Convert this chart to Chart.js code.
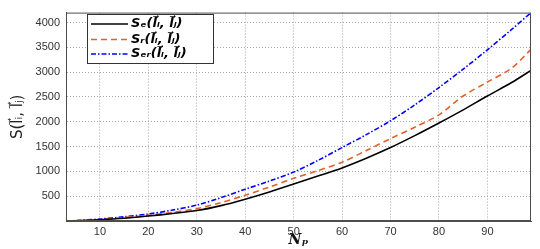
<!DOCTYPE html>
<html>
<head>
<meta charset="utf-8">
<script src="https://cdn.jsdelivr.net/npm/chart.js@4.4.1/dist/chart.umd.min.js"></script>
<style>
  html, body { margin: 0; padding: 0; background: #fff; }
  #wrap { width: 540px; height: 249px; }
</style>
</head>
<body>
<div id="wrap"><canvas id="grafico"></canvas></div>
<script>
// valores
const nP = [3, 5, 10, 15, 20, 25, 30, 35, 40, 45, 50, 55, 60, 65, 70, 75, 80, 85, 90, 95, 99];
const sE = [2, 5, 25, 55, 100, 150, 210, 310, 440, 585, 745, 905, 1070, 1265, 1480, 1720, 1975, 2240, 2520, 2790, 3035];
const sR = [2, 6, 30, 70, 115, 175, 250, 370, 520, 685, 860, 1015, 1185, 1420, 1660, 1890, 2140, 2520, 2800, 3080, 3460];
const sER = [3, 8, 40, 85, 140, 220, 320, 470, 640, 805, 985, 1220, 1480, 1740, 2020, 2340, 2690, 3060, 3450, 3860, 4200];

const xTicks = [10, 20, 30, 40, 50, 60, 70, 80, 90];
const yTicks = [500, 1000, 1500, 2000, 2500, 3000, 3500, 4000];
const legendas = ['S\u2091(l\u20D7\u1D62, l\u20D7\u2C7C)', 'S\u1D63(l\u20D7\u1D62, l\u20D7\u2C7C)', 'S\u2091\u1D63(l\u20D7\u1D62, l\u20D7\u2C7C)'];

function pontos(ys) {
  return nP.map(function (x, i) { return { x: x, y: ys[i] }; });
}

// caixa em volta do grafico + legenda desenhada a mao
const moldura = {
  id: 'moldura',
  afterDatasetsDraw(chart) {
    const ctx = chart.ctx;
    const a = chart.chartArea;
    ctx.save();
    ctx.strokeStyle = '#4d4d4d';
    ctx.lineWidth = 1;
    ctx.setLineDash([]);
    ctx.strokeRect(a.left + 0.5, a.top + 0.5, a.right - a.left - 1, a.bottom - a.top - 1);

    // legenda
    const bx = 87, by = 14, bw = 126, bh = 49;
    ctx.fillStyle = '#fff';
    ctx.fillRect(bx, by, bw, bh);
    ctx.strokeStyle = '#333';
    ctx.strokeRect(bx + 0.5, by + 0.5, bw, bh);
    const linhasY = [24, 39.5, 54];
    chart.data.datasets.forEach(function (ds, i) {
      ctx.beginPath();
      ctx.setLineDash(ds.borderDash || []);
      ctx.strokeStyle = ds.borderColor;
      ctx.lineWidth = ds.borderWidth;
      ctx.moveTo(91, linhasY[i]);
      ctx.lineTo(128, linhasY[i]);
      ctx.stroke();
      ctx.setLineDash([]);
      ctx.fillStyle = '#000';
      ctx.font = 'italic bold 13px "DejaVu Sans", sans-serif';
      ctx.textBaseline = 'middle';
      ctx.fillText(ds.label, 131, linhasY[i]);
    });
    ctx.restore();
  }
};

new Chart(document.getElementById('grafico'), {
  type: 'line',
  data: {
    datasets: [{
      label: legendas[0],
      data: pontos(sE),
      borderColor: '#000000',
      borderWidth: 1.6,
      pointRadius: 0,
      tension: 0.3
    }, {
      label: legendas[1],
      data: pontos(sR),
      borderColor: '#E0622C',
      borderWidth: 1.6,
      borderDash: [6, 4],
      pointRadius: 0,
      tension: 0.3
    }, {
      label: legendas[2],
      data: pontos(sER),
      borderColor: '#0000FF',
      borderWidth: 1.6,
      borderDash: [5, 2, 1.5, 2],
      pointRadius: 0,
      tension: 0.3
    }]
  },
  options: {
    responsive: true,
    maintainAspectRatio: false,
    animation: false,
    layout: { padding: { top: 5, right: 9, left: 0, bottom: 0 } },
    plugins: {
      legend: { display: false },
      tooltip: { enabled: false }
    },
    scales: {
      x: {
        type: 'linear',
        min: 3,
        max: 99,
        afterBuildTicks: function (s) { s.ticks = xTicks.map(function (v) { return { value: v }; }); },
        afterFit: function (s) { s.height = 28; },
        grid: { color: '#a8a8a8', drawTicks: false },
        border: { display: true, color: '#4d4d4d', dash: [1, 2] },
        ticks: {
          padding: 4, color: '#333', maxRotation: 0,
          font: { family: 'Liberation Sans', size: 11 },
          callback: function (v) { return String(v); }
        },
        title: {
          display: true,
          text: 'N\u209A',
          color: '#111',
          padding: { top: 0, bottom: 0 },
          font: { family: 'DejaVu Serif', style: 'italic', weight: 'bold', size: 14 }
        }
      },
      y: {
        min: 0,
        max: 4200,
        afterBuildTicks: function (s) { s.ticks = yTicks.map(function (v) { return { value: v }; }); },
        afterFit: function (s) { s.width = 66; },
        grid: { color: '#a8a8a8', drawTicks: false },
        border: { display: true, color: '#4d4d4d', dash: [1, 2] },
        ticks: {
          padding: 6, color: '#333',
          font: { family: 'Liberation Sans', size: 11 },
          callback: function (v) { return String(v); }
        },
        title: {
          display: true,
          text: 'S(l\u20D7\u1D62, l\u20D7\u2C7C)',
          color: '#222',
          padding: { top: 9, bottom: 0 },
          font: { family: 'DejaVu Sans', size: 15 }
        }
      }
    }
  },
  plugins: [moldura]
});
</script>
</body>
</html>
